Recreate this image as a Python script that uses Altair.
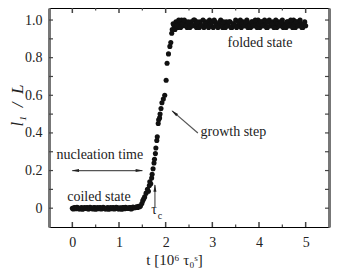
import altair as alt
import pandas as pd

# ---- data ----
coil_x = [0.00, 0.04, 0.08, 0.12, 0.16, 0.20, 0.24, 0.28, 0.32, 0.36,
          0.40, 0.44, 0.48, 0.52, 0.56, 0.60, 0.64, 0.68, 0.72, 0.76,
          0.80, 0.84, 0.88, 0.92, 0.96, 1.00, 1.04, 1.08, 1.12, 1.16,
          1.20, 1.24, 1.28, 1.32, 1.36, 1.40, 1.44]
coil_y = [0.000, 0.004, -0.003, 0.002, -0.004, 0.003, 0.000, -0.002, 0.004, -0.003,
          0.002, -0.004, 0.003, 0.000, -0.003, 0.004, -0.002, 0.002, -0.004, 0.003,
          0.000, -0.003, 0.004, -0.002, 0.003, -0.004, 0.001, 0.004, -0.003, 0.002,
          -0.002, 0.004, 0.000, 0.003, 0.005, 0.004, 0.008]
coil2_x = [0.02, 0.06, 0.10, 0.14, 0.18, 0.22, 0.26, 0.30, 0.34, 0.38,
           0.42, 0.46, 0.50, 0.54, 0.58, 0.62, 0.66, 0.70, 0.74, 0.78,
           0.82, 0.86, 0.90, 0.94, 0.98, 1.02, 1.06, 1.10, 1.14, 1.18,
           1.22, 1.26, 1.30, 1.34, 1.38, 1.42]
coil2_y = [-0.004, 0.002, 0.005, -0.003, 0.001, -0.005, 0.004, 0.002, -0.004, 0.005,
           -0.002, 0.003, -0.005, 0.004, 0.002, -0.004, 0.005, -0.003, 0.001, -0.005,
           0.004, 0.002, -0.004, 0.005, -0.003, 0.002, -0.005, 0.003, 0.005, -0.002,
           0.003, -0.004, 0.006, 0.002, 0.007, 0.010]

rise_x = [1.46, 1.49, 1.51, 1.53, 1.55, 1.58, 1.61, 1.63, 1.65, 1.66,
          1.68, 1.70, 1.71, 1.73, 1.75, 1.76, 1.78, 1.79, 1.81, 1.82,
          1.84, 1.85, 1.87, 1.88, 1.90, 1.92, 1.95, 1.98, 2.01, 2.03,
          2.06, 2.09, 2.11, 2.13]
rise_y = [0.012, 0.025, 0.04, 0.05, 0.06, 0.08, 0.10, 0.09, 0.12, 0.14,
          0.13, 0.16, 0.18, 0.21, 0.24, 0.26, 0.29, 0.32, 0.36, 0.38,
          0.45, 0.47, 0.48, 0.50, 0.53, 0.56, 0.58, 0.60, 0.68, 0.77,
          0.82, 0.86, 0.88, 0.93]

plat_x = [2.14, 2.18, 2.22, 2.26, 2.30, 2.34, 2.38, 2.42, 2.46, 2.50,
          2.54, 2.58, 2.62, 2.66, 2.70, 2.74, 2.78, 2.82, 2.86, 2.90,
          2.94, 2.98, 3.02, 3.06, 3.10, 3.14, 3.18, 3.22, 3.26, 3.30,
          3.34, 3.38, 3.42, 3.46, 3.50, 3.54, 3.58, 3.62, 3.66, 3.70,
          3.74, 3.78, 3.82, 3.86, 3.90, 3.94, 3.98, 4.02, 4.06, 4.10,
          4.14, 4.18, 4.22, 4.26, 4.30, 4.34, 4.38, 4.42, 4.46, 4.50,
          4.54, 4.58, 4.62, 4.66, 4.70, 4.74, 4.78, 4.82, 4.86, 4.90,
          4.94, 4.98]
plat_y = [0.95, 0.97, 0.99, 0.96, 0.98, 1.00, 0.97, 0.99, 0.96, 0.98,
          0.99, 0.97, 1.00, 0.96, 0.98, 0.99, 0.97, 0.96, 0.99, 0.98,
          1.00, 0.97, 0.96, 0.99, 0.98, 0.97, 1.00, 0.96, 0.98, 0.99,
          0.97, 0.99, 0.96, 0.98, 1.00, 0.97, 0.98, 0.96, 0.99, 0.97,
          1.00, 0.98, 0.96, 0.99, 0.97, 0.98, 1.00, 0.96, 0.99, 0.97,
          0.98, 0.96, 1.00, 0.97, 0.99, 0.98, 0.96, 0.99, 0.97, 1.00,
          0.98, 0.96, 0.99, 0.97, 0.98, 1.00, 0.96, 0.99, 0.97, 0.98,
          0.96, 0.99]
plat2_x = [2.16, 2.20, 2.24, 2.28, 2.32, 2.36, 2.40, 2.44, 2.48, 2.52,
           2.56, 2.60, 2.64, 2.68, 2.72, 2.76, 2.80, 2.84, 2.88, 2.92,
           2.96, 3.00, 3.04, 3.08, 3.12, 3.16, 3.20, 3.24, 3.28, 3.32,
           3.36, 3.40, 3.44, 3.48, 3.52, 3.56, 3.60, 3.64, 3.68, 3.72,
           3.76, 3.80, 3.84, 3.88, 3.92, 3.96, 4.00, 4.04, 4.08, 4.12,
           4.16, 4.20, 4.24, 4.28, 4.32, 4.36, 4.40, 4.44, 4.48, 4.52,
           4.56, 4.60, 4.64, 4.68, 4.72, 4.76, 4.80, 4.84, 4.88, 4.92,
           4.96, 5.00]
plat2_y = [0.98, 0.95, 0.97, 1.00, 0.96, 0.98, 1.00, 0.97, 0.99, 0.96,
           0.97, 1.00, 0.98, 0.99, 0.96, 0.97, 1.00, 0.98, 0.97, 0.96,
           0.98, 0.99, 1.00, 0.97, 0.96, 0.99, 0.97, 0.99, 0.96, 0.97,
           0.99, 0.96, 0.98, 0.97, 0.96, 0.99, 1.00, 0.98, 0.97, 0.99,
           0.96, 0.97, 0.99, 0.97, 1.00, 0.96, 0.98, 0.99, 0.97, 1.00,
           0.96, 0.99, 0.97, 0.98, 0.96, 1.00, 0.98, 0.97, 0.99, 0.96,
           0.97, 0.99, 0.97, 1.00, 0.96, 0.98, 0.99, 0.97, 1.00, 0.96,
           0.98, 0.97]

x_labels = [0, 1, 2, 3, 4, 5]
x_minor = [0.5, 1.5, 2.5, 3.5, 4.5]
y_labels = [0.0, 0.2, 0.4, 0.6, 0.8, 1.0]
y_ticks = [0.0, 0.1, 0.2, 0.3, 0.4, 0.5, 0.6, 0.7, 0.8, 0.9, 1.0]

ann_text = ["folded state", "growth step", "nucleation time", "coiled state", "τ", "c"]
ann_x = [4.02, 3.45, 0.59, 0.57, 1.75, 1.88]
ann_y = [0.88, 0.405, 0.283, 0.06, -0.01, -0.042]
ann_size = [14, 14, 14, 14, 14, 10]

arr_x = [0.0, 2.69, 1.77]
arr_y = [0.2, 0.40, 0.006]
arr_x2 = [1.5, 2.14, 1.77]
arr_y2 = [0.2, 0.517, 0.123]

head_x = [0.064, 1.436, 2.185, 1.77]
head_y = [0.2, 0.2, 0.507, 0.107]
head_angle = [270, 90, 310, 0]

# ---- tables ----
pts = pd.DataFrame({
    "x": coil_x + coil2_x + rise_x + plat_x + plat2_x,
    "y": coil_y + coil2_y + rise_y + plat_y + plat2_y,
})
ann = pd.DataFrame({"t": ann_text, "x": ann_x, "y": ann_y, "s": ann_size})
arr = pd.DataFrame({"x": arr_x, "y": arr_y, "x2": arr_x2, "y2": arr_y2})
heads = pd.DataFrame({"x": head_x, "y": head_y, "a": head_angle})
yt = pd.DataFrame({"v": y_ticks})
xmaj = pd.DataFrame({"v": x_labels})
xmin = pd.DataFrame({"v": x_minor})

FONT = "'Liberation Serif', 'Times New Roman', 'DejaVu Serif', serif"
TXT = "#222222"
xs = alt.Scale(domain=[-0.5, 5.5], nice=False, zero=False)
ys = alt.Scale(domain=[-0.1, 1.064], nice=False, zero=False)

points = alt.Chart(pts).mark_circle(size=26, color="#111111", opacity=1).encode(
    x=alt.X("x:Q", scale=xs, axis=alt.Axis(
        values=x_labels, format="d", ticks=False, grid=False,
        domainColor="black", domainWidth=1, labelPadding=8,
        labelFont=FONT, labelFontSize=14, labelColor=TXT,
        title="t  [10⁶ τ₀ˢ]", titleFont=FONT, titleFontSize=15,
        titleFontWeight="normal", titleColor=TXT,
        titleX=125, titleY=32, titleAlign="center", titleBaseline="middle")),
    y=alt.Y("y:Q", scale=ys, axis=alt.Axis(
        values=y_labels, ticks=False, grid=False,
        labelExpr="datum.value == 0 ? '0' : format(datum.value, '.1f')",
        domainColor="#777777", domainWidth=3, labelPadding=7,
        labelFont=FONT, labelFontSize=14, labelColor=TXT,
        title="l₁\u2002/\u2002L", titleFont=FONT, titleFontSize=17,
        titleFontStyle="italic", titleFontWeight="normal", titleColor=TXT,
        titleX=-32, titleY=97, titleAlign="center", titleBaseline="middle")),
)

frame = alt.Chart(pts).mark_point(opacity=0).encode(
    x=alt.X("x:Q", scale=xs, axis=alt.Axis(
        orient="top", labels=False, ticks=False, grid=False, title=None,
        domainColor="black", domainWidth=1)),
    y=alt.Y("y:Q", scale=ys, axis=alt.Axis(
        orient="right", labels=False, ticks=False, grid=False, title=None,
        domainColor="#777777", domainWidth=3)),
)

TC = "#444444"
ytl = alt.Chart(yt).mark_rule(color=TC, strokeWidth=1.2).encode(
    y=alt.Y("v:Q", scale=ys, axis=None), x=alt.value(0), x2=alt.value(4))
ytr = alt.Chart(yt).mark_rule(color=TC, strokeWidth=1.2).encode(
    y=alt.Y("v:Q", scale=ys, axis=None), x=alt.value(276), x2=alt.value(280))
xbm = alt.Chart(xmaj).mark_rule(color=TC, strokeWidth=1.5).encode(
    x=alt.X("v:Q", scale=xs, axis=None), y=alt.value(214), y2=alt.value(219))
xbn = alt.Chart(xmin).mark_rule(color=TC, strokeWidth=1.2).encode(
    x=alt.X("v:Q", scale=xs, axis=None), y=alt.value(216.5), y2=alt.value(219))
xtm = alt.Chart(xmaj).mark_rule(color=TC, strokeWidth=1.5).encode(
    x=alt.X("v:Q", scale=xs, axis=None), y=alt.value(0), y2=alt.value(5))
xtn = alt.Chart(xmin).mark_rule(color=TC, strokeWidth=1.2).encode(
    x=alt.X("v:Q", scale=xs, axis=None), y=alt.value(0), y2=alt.value(2.5))

arrows = alt.Chart(arr).mark_rule(color="#555555", strokeWidth=1.2).encode(
    x=alt.X("x:Q", scale=xs, axis=None), y=alt.Y("y:Q", scale=ys, axis=None),
    x2="x2:Q", y2="y2:Q")

heads_l = alt.Chart(heads).mark_point(
    shape="M0,-1L0.4,1L-0.4,1Z", filled=True, color="#222222", size=55, opacity=1
).encode(
    x=alt.X("x:Q", scale=xs, axis=None), y=alt.Y("y:Q", scale=ys, axis=None),
    angle=alt.Angle("a:Q", scale=None))

texts = alt.Chart(ann).mark_text(font=FONT, color=TXT, align="center", baseline="middle").encode(
    x=alt.X("x:Q", scale=xs, axis=None), y=alt.Y("y:Q", scale=ys, axis=None),
    text="t:N", size=alt.Size("s:Q", scale=None))

chart = alt.layer(
    frame, ytl, ytr, xbm, xbn, xtm, xtn, arrows, heads_l, texts, points
).resolve_axis(x="independent", y="independent").properties(
    width=280, height=219,
    autosize=alt.AutoSizeParams(type="none"),
    padding={"left": 41, "top": 0, "right": 12, "bottom": 44},
).configure_view(stroke=None).configure(background="white")

chart.save("out.html", embed_options={"renderer": "svg", "actions": False})
